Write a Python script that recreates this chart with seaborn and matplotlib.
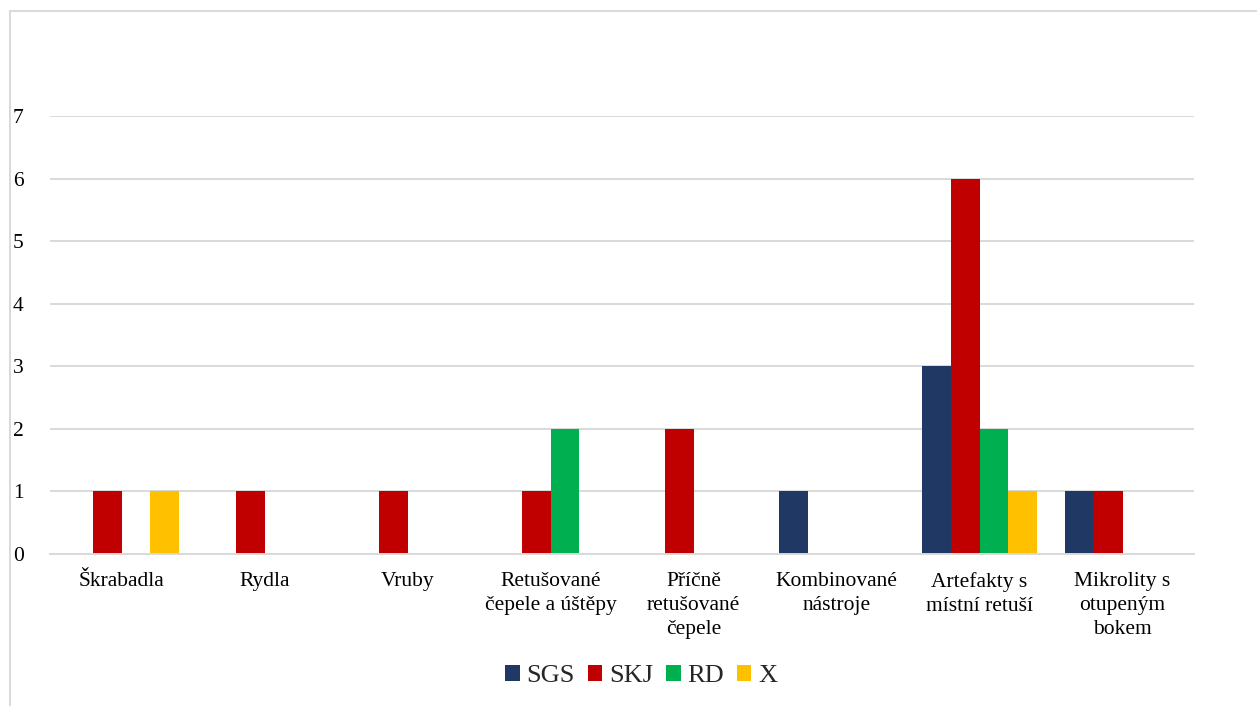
import matplotlib
matplotlib.use("Agg")
import matplotlib.pyplot as plt
import matplotlib.lines as mlines
import seaborn as sns
import pandas as pd

categories = ["Škrabadla", "Rydla", "Vruby", "Retušované\nčepele a úštěpy",
              "Příčně\nretušované\nčepele", "Kombinované\nnástroje",
              "Artefakty s\nmístní retuší", "Mikrolity s\notupeným\nbokem"]
series = ["SGS", "SKJ", "RD", "X"]
SGS = [0, 0, 0, 0, 0, 1, 3, 1]
SKJ = [1, 1, 1, 1, 2, 0, 6, 1]
RD = [0, 0, 0, 2, 0, 0, 2, 0]
X = [1, 0, 0, 0, 0, 0, 1, 0]
yticks = [0, 1, 2, 3, 4, 5, 6, 7]
colors = ["#1F3864", "#C00000", "#00B050", "#FFC000"]

rows = []
for name, vals in zip(series, [SGS, SKJ, RD, X]):
    for c, v in zip(categories, vals):
        rows.append({"cat": c, "series": name, "value": v})
df = pd.DataFrame(rows)

sns.set_theme(style="white")
plt.rcParams["font.family"] = ["Liberation Serif", "DejaVu Serif"]

fig = plt.figure(figsize=(12.57, 7.06), dpi=100)
ax = fig.add_axes([50/1257, 1-554/706, (1194-50)/1257, (554-116)/706])

sns.barplot(data=df, x="cat", y="value", hue="series", order=categories,
            hue_order=series, palette=colors, width=0.8, ax=ax,
            saturation=1, errorbar=None, legend=True, linewidth=0)
ax.set_ylim(0, 7)
ax.set_xlim(-0.5, len(categories) - 0.5)
ax.set_yticks(yticks)
ax.set_yticklabels([str(t) for t in yticks])
ax.yaxis.grid(True, color="#D9D9D9", linewidth=1.4)
ax.set_axisbelow(True)
for s in ["top", "right", "left"]:
    ax.spines[s].set_visible(False)
ax.spines["bottom"].set_color("#D9D9D9")
ax.spines["bottom"].set_linewidth(1.4)
ax.set_xlabel("")
ax.set_ylabel("")
ax.tick_params(axis="both", length=0, labelsize=15.5, colors="black")
ax.tick_params(axis="y", pad=19)
ax.tick_params(axis="x", pad=13)
for lab in ax.get_xticklabels():
    lab.set_linespacing(1.36)
    lab.set_verticalalignment("top")

handles, labels = ax.get_legend_handles_labels()
ax.get_legend().remove()
fig.legend(handles, labels, loc="center", bbox_to_anchor=(0.510, 1-676/706),
           ncol=4, frameon=False, fontsize=19, handlelength=0.55,
           handleheight=0.55, handletextpad=0.25, columnspacing=0.5)

# chart border (left and top visible)
fig.add_artist(mlines.Line2D([9.5/1257, 9.5/1257], [0, 1-11/706],
                             transform=fig.transFigure, color="#D9D9D9", linewidth=1.4))
fig.add_artist(mlines.Line2D([9.5/1257, 1], [1-11/706, 1-11/706],
                             transform=fig.transFigure, color="#D9D9D9", linewidth=1.4))

fig.savefig("out.png", dpi=100)
